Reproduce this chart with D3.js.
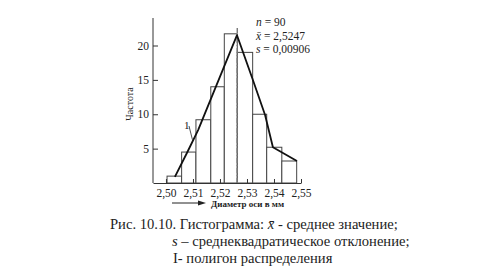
<!DOCTYPE html>
<html>
<head>
<meta charset="utf-8">
<script src="https://cdn.jsdelivr.net/npm/d3@7"></script>
<style>
  body { margin: 0; background: #fff; }
  text { font-family: "Liberation Serif", "Times New Roman", serif; fill: #222; }
  .axis path, .axis line { stroke: #333; }
</style>
</head>
<body>
<div id="chart"></div>
<script>
// histogram bin edges as drawn in the scan, and counts
var binEdges = [2.5004, 2.5058, 2.5111, 2.5166, 2.5216, 2.5264, 2.5321, 2.5373, 2.5429, 2.5484];
var counts = [1, 4.5, 9.2, 14, 21.7, 19, 10, 5.2, 3.2];

// distribution polygon (1)
var polyX = [2.5033, 2.5078, 2.5119, 2.5263, 2.5319, 2.5367, 2.5396, 2.5485];
var polyY = [0.9, 4.4, 7.7, 21.5, 15.3, 9.9, 5.2, 3.2];

var meanLineX = 2.5264;   // where the dash-dot line sits in the scan
var xTicks = [2.50, 2.51, 2.52, 2.53, 2.54, 2.55];
var yTicks = [5, 10, 15, 20];
var tickFmt = function(d){ return d.toFixed(2).replace('.', ','); };

var svg = d3.select("#chart")
    .append("svg")
    .attr("width", 480)
    .attr("height", 280);

var pArea = [153, 18, 301, 183];   // left, top, right, bottom

var x = d3.scaleLinear()
    .domain([2.4952, 2.55])
    .range([pArea[0], pArea[2]]);
var y = d3.scaleLinear()
    .domain([0, 24])
    .range([pArea[3], pArea[1]]);

var g = svg.append("g");

// bars
g.selectAll("rect.bar")
  .data(counts)
  .enter().append("rect")
    .attr("class", "bar")
    .attr("x", function(d, i){ return x(binEdges[i]); })
    .attr("y", function(d){ return y(d); })
    .attr("width", function(d, i){ return x(binEdges[i + 1]) - x(binEdges[i]); })
    .attr("height", function(d){ return y(0) - y(d); })
    .attr("fill", "#fff")
    .attr("stroke", "#444")
    .attr("stroke-width", 1);

// mean line (dash-dot)
g.append("line")
  .attr("x1", x(meanLineX)).attr("x2", x(meanLineX))
  .attr("y1", y(0)).attr("y2", y(22.8))
  .attr("stroke", "#777")
  .attr("stroke-width", 1.4)
  .attr("stroke-dasharray", "5,2,1,2");

// polygon
var line = d3.line()
  .x(function(d){ return x(d[0]); })
  .y(function(d){ return y(d[1]); });
g.append("path")
  .datum(d3.zip(polyX, polyY))
  .attr("d", line)
  .attr("fill", "none")
  .attr("stroke", "#111")
  .attr("stroke-width", 1.8)
  .attr("stroke-linejoin", "round");

// axes
g.append("g")
  .attr("class", "axis axis--y")
  .attr("transform", `translate(${pArea[0]},0)`)
  .call(d3.axisLeft(y).tickValues(yTicks).tickSize(-5).tickPadding(4).tickSizeOuter(0))
  .call(function(s){ s.selectAll("text").attr("font-size", 11.5); s.select(".domain").attr("d", `M0,${pArea[3]}V${pArea[1]}`); });

g.append("g")
  .attr("class", "axis axis--x")
  .attr("transform", `translate(0,${pArea[3]})`)
  .call(d3.axisBottom(x).tickValues(xTicks).tickFormat(tickFmt).tickSize(-4).tickPadding(6).tickSizeOuter(0))
  .call(function(s){ s.selectAll("text").attr("font-size", 11.5); });

// axis titles
svg.append("text")
  .attr("transform", "translate(133,104) rotate(-90)")
  .attr("text-anchor", "middle")
  .attr("font-size", 10)
  .text("Частота");

svg.append("line")
  .attr("x1", 172).attr("x2", 199)
  .attr("y1", 203).attr("y2", 203)
  .attr("stroke", "#222").attr("stroke-width", 1);
svg.append("path")
  .attr("d", "M198,200.5L206,203L198,205.5Z")
  .attr("fill", "#222");
svg.append("text")
  .attr("x", 211).attr("y", 206.5)
  .attr("font-size", 9)
  .attr("font-weight", "bold")
  .text("Диаметр оси в мм");

// label "1" with leader
svg.append("text")
  .attr("x", 184).attr("y", 129)
  .attr("font-size", 11)
  .text("1");
svg.append("line")
  .attr("x1", 189).attr("y1", 126).attr("x2", x(2.5098)).attr("y2", y(6.3))
  .attr("stroke", "#222").attr("stroke-width", 0.8);

// statistics
var stats = svg.append("text").attr("font-size", 11.5);
var s1 = stats.append("tspan").attr("x", 256).attr("y", 26);
s1.append("tspan").attr("font-style", "italic").text("n");
s1.append("tspan").text(" = 90");
var s2 = stats.append("tspan").attr("x", 256).attr("y", 39.5);
s2.append("tspan").attr("font-style", "italic").text("x\u0304");
s2.append("tspan").text(" = 2,5247");
var s3 = stats.append("tspan").attr("x", 256).attr("y", 53);
s3.append("tspan").attr("font-style", "italic").text("s");
s3.append("tspan").text(" = 0,00906");

// caption
var cap = svg.append("text").attr("font-size", 14.6);
var c1 = cap.append("tspan").attr("x", 110).attr("y", 229);
c1.append("tspan").text("Рис. 10.10. Гистограмма:  ");
c1.append("tspan").attr("font-style", "italic").text("x\u0304");
c1.append("tspan").text(" - среднее значение;");
var c2 = cap.append("tspan").attr("x", 172).attr("y", 246);
c2.append("tspan").attr("font-style", "italic").text("s");
c2.append("tspan").text(" – среднеквадратическое отклонение;");
cap.append("tspan").attr("x", 173).attr("y", 263).text("I- полигон распределения");
</script>
</body>
</html>
